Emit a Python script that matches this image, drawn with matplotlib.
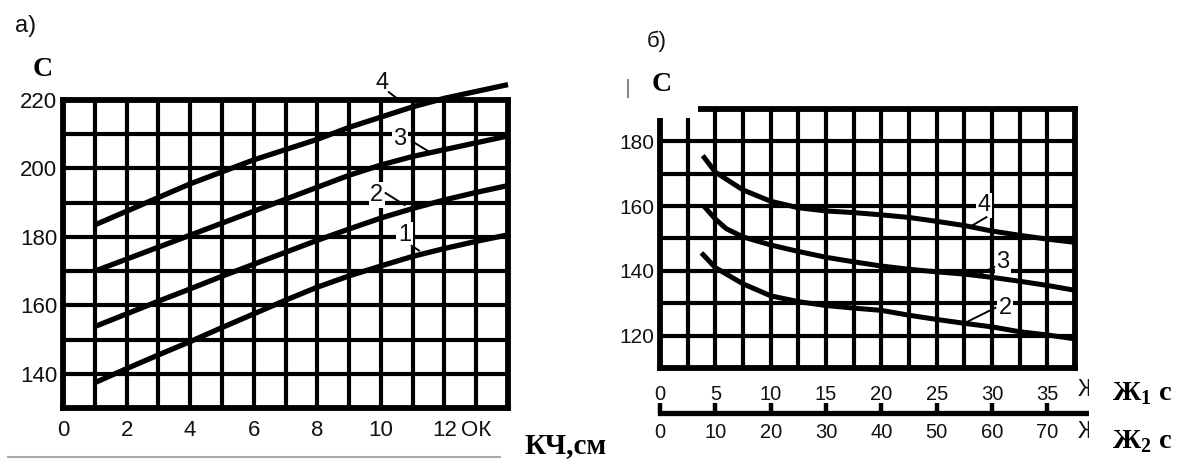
import numpy as np
import matplotlib.pyplot as plt
from matplotlib.patches import Rectangle
from matplotlib.lines import Line2D

plt.rcParams['font.family'] = ['Liberation Sans', 'DejaVu Sans']
plt.rcParams['mathtext.fontset'] = 'custom'
plt.rcParams['mathtext.rm'] = 'Liberation Serif:bold'
plt.rcParams['mathtext.bf'] = 'Liberation Serif:bold'

W, H = 1181, 462
INK = '#111111'

# а) C vs КЧ, cm
kch = [1, 2, 3, 4, 5, 6, 7, 8, 9, 10, 11, 12, 13, 14]
a_c1 = [137.4, 141.5, 145.5, 149.4, 153.5, 157.5, 161.5, 165.3, 168.6, 171.5, 174.3, 176.6, 178.7, 180.6]
a_c2 = [153.8, 157.5, 161.2, 164.8, 168.5, 172.0, 175.5, 179.0, 182.3, 185.5, 188.3, 190.8, 193.0, 195.0]
a_c3 = [170.0, 173.5, 177.0, 180.5, 184.0, 187.5, 191.0, 194.5, 198.0, 201.0, 203.5, 205.5, 207.5, 209.5]
a_c4 = [183.5, 187.5, 191.5, 195.5, 199.0, 202.5, 205.5, 208.5, 212.0, 215.0, 218.0, 220.5, 222.5, 224.5]
a_xticks = list(range(0, 15))
a_xticklabels = ['0', '', '2', '', '4', '', '6', '', '8', '', '10', '', '12', 'ОК', '']
a_yticks = list(range(130, 221, 10))
a_yticklabels = ['', '140', '', '160', '', '180', '', '200', '', '220']

# б) C vs Ж1 (Ж2 = 2*Ж1)
b_x2 = [3.9, 5, 7.5, 10, 12.5, 15, 17.5, 20, 22.5, 25, 27.5, 30, 32.5, 35, 37.5]
b_c2 = [145, 141, 136, 132.3, 130.5, 129.3, 128.5, 127.8, 126.3, 125, 123.8, 122.7, 121.2, 120.2, 119]
b_x3 = [4.1, 5, 6, 7.5, 10, 12.5, 15, 17.5, 20, 22.5, 25, 27.5, 30, 32.5, 35, 37.5]
b_c3 = [159.5, 156, 153, 150.5, 148, 146, 144.2, 142.8, 141.5, 140.5, 139.7, 139, 138, 136.8, 135.5, 134]
b_x4 = [4.0, 5, 7.5, 10, 12.5, 15, 17.5, 20, 22.5, 25, 27.5, 30, 32.5, 35, 37.5]
b_c4 = [175, 170.5, 165, 161.5, 159.5, 158.5, 158, 157.3, 156.5, 155.3, 154, 152.3, 151, 149.8, 148.8]
b_xticks = [0, 2.5, 5, 7.5, 10, 12.5, 15, 17.5, 20, 22.5, 25, 27.5, 30, 32.5, 35, 37.5]
b_xticklabels = ['0', '', '5', '', '10', '', '15', '', '20', '', '25', '', '30', '', '35', '']
b_yticks = list(range(110, 191, 10))
b_yticklabels = ['', '120', '', '140', '', '160', '', '180', '']
zh2_ticks = [0, 10, 20, 30, 40, 50, 60, 70]


def fbox(x0, y0, x1, y1):
    # pixel box -> figure fraction rect
    return [x0 / W, 1 - y1 / H, (x1 - x0) / W, (y1 - y0) / H]


def grid_axes(ax, lw_grid, lw_spine):
    ax.grid(True, color='black', lw=lw_grid)
    for s in ax.spines.values():
        s.set_linewidth(lw_spine)
        s.set_color('black')
    ax.tick_params(length=0, colors=INK)


fig = plt.figure(figsize=(W / 100, H / 100), dpi=100)

# ---- а)
ax1 = fig.add_axes(fbox(63, 100, 508, 408))
ax1.set_xlim(0, 14)
ax1.set_ylim(130, 220)
ax1.set_xticks(a_xticks)
ax1.set_xticklabels(a_xticklabels, fontsize=16)
ax1.set_yticks(a_yticks)
ax1.set_yticklabels(a_yticklabels, fontsize=16)
grid_axes(ax1, 3.0, 4.2)
ax1.tick_params(axis='x', pad=9)
ax1.tick_params(axis='y', pad=4)
for yy in (a_c1, a_c2, a_c3):
    ax1.plot(kch, yy, color='black', lw=3.8, solid_capstyle='butt')
ax1.plot(kch, a_c4, color='black', lw=3.8, clip_on=False, solid_capstyle='butt')

lbl = dict(fontsize=17, color=INK, ha='center', va='center',
           bbox=dict(facecolor='white', edgecolor='none', pad=1.2), zorder=4)
for t, (tx, ty), (x0, y0), (x1, y1) in [
        ('4', (10.03, 224.9), (10.25, 222.3), (10.66, 219.4)),
        ('3', (10.6, 208.6), (10.97, 208.0), (11.48, 205.1)),
        ('2', (9.87, 192.2), (10.15, 192.8), (10.75, 189.3)),
        ('1', (10.75, 180.6), (10.97, 177.4), (11.2, 176.0))]:
    ax1.text(tx, ty, t, clip_on=False, **lbl)
    ax1.plot([x0, x1], [y0, y1], color='black', lw=1.4, clip_on=False, zorder=5)

# ---- б)
ax2 = fig.add_axes(fbox(660, 109, 1075, 368))
ax2.set_xlim(0, 37.5)
ax2.set_ylim(110, 190)
ax2.set_xticks(b_xticks)
ax2.set_xticklabels(b_xticklabels, fontsize=14.5)
ax2.set_yticks(b_yticks)
ax2.set_yticklabels(b_yticklabels, fontsize=15)
grid_axes(ax2, 3.0, 4.2)
ax2.tick_params(axis='x', pad=12)
ax2.tick_params(axis='y', pad=4)
ax2.plot(b_x2, b_c2, color='black', lw=3.6)
ax2.plot(b_x3, b_c3, color='black', lw=3.6)
ax2.plot(b_x4, b_c4, color='black', lw=3.6)
for t, (tx, ty), (x0, y0), (x1, y1) in [
        ('4', (29.3, 160.3), (29.5, 156.6), (28.2, 154.0)),
        ('3', (31.0, 142.8), (30.2, 141.2), (28.9, 139.0)),
        ('2', (31.2, 128.6), (30.3, 128.6), (27.6, 124.0))]:
    ax2.text(tx, ty, t, **lbl)
    ax2.plot([x0, x1], [y0, y1], color='black', lw=1.4, zorder=5)

# second scale Ж2
zh2_max = (1088 - 660) / (415 / 37.5) * 2
ax3 = fig.add_axes(fbox(660, 412.9, 1088, 413))
ax3.set_xlim(0, zh2_max)
ax3.set_yticks([])
ax3.patch.set_visible(False)
for k in ('top', 'left', 'right'):
    ax3.spines[k].set_visible(False)
ax3.spines['bottom'].set_linewidth(3.8)
ax3.set_xticks(zh2_ticks)
ax3.set_xticklabels([str(v) for v in zh2_ticks], fontsize=14.5, color=INK)
ax3.tick_params(axis='x', direction='in', length=7, width=3.2, pad=7)

# cut-off glyphs at the end of the scales, then the white cover
for yy in (390, 432):
    fig.text(1089 / W, 1 - yy / H, 'Ж', fontsize=17, color=INK, ha='center', va='center')
fig.add_artist(Rectangle((1089 / W, 0), (W - 1089) / W, 1 - 372 / H,
                         transform=fig.transFigure, facecolor='white',
                         edgecolor='none', zorder=5))

serif = dict(family='Liberation Serif', weight='bold', color='black', zorder=6)
fig.text(1112 / W, 1 - 394 / H, 'Ж$_{\\mathbf{1}}$ с', fontsize=20.5, ha='left', va='center', **serif)
fig.text(1112 / W, 1 - 442 / H, 'Ж$_{\\mathbf{2}}$ с', fontsize=20.5, ha='left', va='center', **serif)
fig.text(566 / W, 1 - 446 / H, 'КЧ,см', fontsize=21, ha='center', va='center', **serif)

# white label box over corner of б) grid
fig.add_artist(Rectangle((630 / W, 1 - 118 / H), 68 / W, 48 / H,
                         transform=fig.transFigure, facecolor='white',
                         edgecolor='none', zorder=5))
fig.add_artist(Line2D([628 / W, 628 / W], [1 - 80 / H, 1 - 97 / H],
                      color='#888888', lw=1.5, zorder=6))
fig.text(662 / W, 1 - 85 / H, 'С', fontsize=20, ha='center', va='center', **serif)
fig.text(43 / W, 1 - 69 / H, 'С', fontsize=20, ha='center', va='center', **serif)

fig.text(26 / W, 1 - 26 / H, 'а)', fontsize=17, color=INK, ha='center', va='center')
fig.text(657 / W, 1 - 41 / H, 'б)', fontsize=16, color=INK, ha='center', va='center')

# grey rule under chart а)
fig.add_artist(Line2D([8 / W, 500 / W], [1 - 457 / H, 1 - 457 / H],
                      color='#aaaaaa', lw=1.5))

fig.savefig('out.png', dpi=100)
